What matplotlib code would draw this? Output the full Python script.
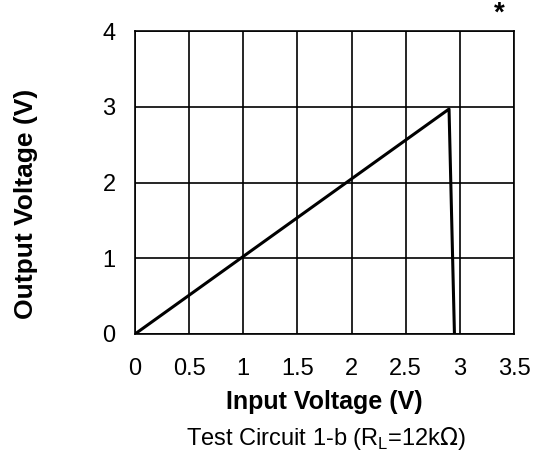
import matplotlib
matplotlib.use("Agg")
import matplotlib.pyplot as plt

x_in = [0.0, 2.9, 2.95]
y_out = [0.0, 2.97, 0.0]
xticks = [0, 0.5, 1, 1.5, 2, 2.5, 3, 3.5]
xticklabels = ["0", "0.5", "1", "1.5", "2", "2.5", "3", "3.5"]
yticks = [0, 1, 2, 3, 4]

plt.rcParams['font.family'] = ['Liberation Sans', 'DejaVu Sans']
fig = plt.figure(figsize=(5.41, 4.59), dpi=100)
L, R, T, B = 135, 514, 31, 334
ax = fig.add_axes([L/541, 1-B/459, (R-L)/541, (B-T)/459])
ax.plot(x_in, y_out, color='black', lw=2.2)
ax.set_xlim(0, 3.5)
ax.set_ylim(0, 4)
ax.set_xticks(xticks)
ax.set_xticklabels(xticklabels)
ax.set_yticks(yticks)
ax.grid(True, color='black', lw=1.2)
for s in ax.spines.values():
    s.set_linewidth(1.2)
ax.tick_params(axis='x', length=0, labelsize=17, pad=17)
ax.tick_params(axis='y', length=0, labelsize=17, pad=14)
ax.set_xlabel('Input Voltage (V)', fontsize=18, fontweight='bold', va='center')
ax.xaxis.set_label_coords(0.5, (B-402)/(B-T))
ax.set_ylabel('Output Voltage (V)', fontsize=19, fontweight='bold', va='center')
ax.yaxis.set_label_coords((26-L)/(R-L), (B-204)/(B-T))
fig.text(326/541, 1-438/459, r'Test Circuit 1-b (R$_{\mathregular{L}}$=12k$\Omega$)',
         ha='center', va='center', fontsize=17)
fig.text(499/541, 1-14/459, '*', ha='center', va='center', fontsize=20, fontweight='bold')
fig.savefig('out.png', dpi=100)
